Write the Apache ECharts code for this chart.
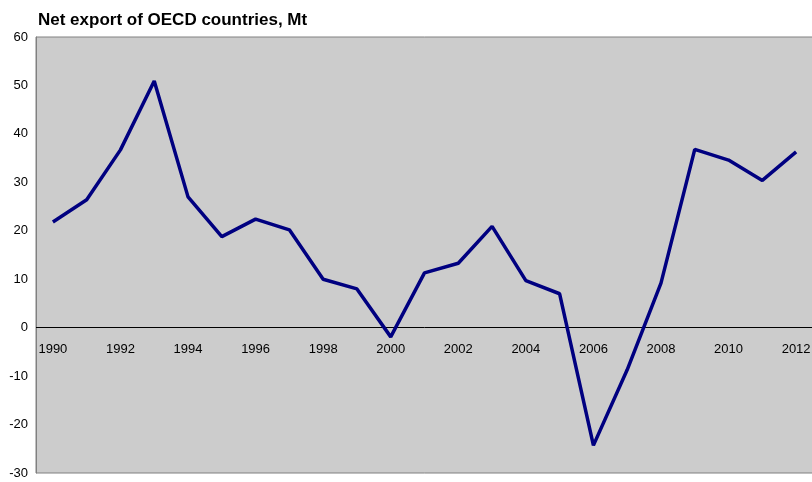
<!DOCTYPE html>
<html><head><meta charset="utf-8">
<script src="https://cdn.jsdelivr.net/npm/echarts@6/dist/echarts.min.js"></script>
<style>html,body{margin:0;padding:0;background:#fff}#c{width:812px;height:482px}</style>
</head><body><div id="c"></div>
<script>
const years = ['1990','1991','1992','1993','1994','1995','1996','1997','1998','1999','2000','2001','2002','2003','2004','2005','2006','2007','2008','2009','2010','2011','2012'];
const netExport = [21.8,26.4,36.7,50.9,27.0,18.8,22.4,20.2,10.0,8.0,-1.9,11.3,13.3,20.9,9.7,7.0,-24.3,-8.7,9.2,36.8,34.6,30.4,36.3];
const yTicks = {min:-30, max:60, interval:10};
const title = 'Net export of OECD countries, Mt';

const chart = echarts.init(document.getElementById('c'));
chart.setOption({
  animation:false,
  title:{text:title, left:38, top:12, padding:0, textStyle:{fontFamily:'Liberation Sans, Arial', fontWeight:'bold', fontSize:17, color:'#000'}},
  grid:{left:36, top:37, width:777, height:436, outerBoundsMode:'none', containLabel:false, show:true, backgroundColor:'#cccccc', borderColor:'#808080', borderWidth:1},
  xAxis:{type:'category', data:years, boundaryGap:true, position:'bottom', offset:-145,
    axisLine:{show:false, onZero:false},
    axisTick:{show:false},
    axisLabel:{interval:1, margin:15, fontFamily:'Liberation Sans, Arial', fontSize:13, color:'#000'},
    splitLine:{show:false}},
  yAxis:{type:'value', min:yTicks.min, max:yTicks.max, interval:yTicks.interval,
    axisLine:{show:true, lineStyle:{color:'#808080'}},
    axisTick:{show:false},
    axisLabel:{margin:8, padding:[5,0,0,0], fontFamily:'Liberation Sans, Arial', fontSize:13, color:'#000'},
    splitLine:{show:false}},
  series:[{type:'line', data:netExport, symbol:'none', z:3, lineStyle:{color:'#000080', width:3.5},
    markLine:{silent:true, z:1, symbol:'none', label:{show:false}, lineStyle:{color:'#000', width:1, type:'solid'}, data:[{yAxis:0}]}}]
});
</script></body></html>
